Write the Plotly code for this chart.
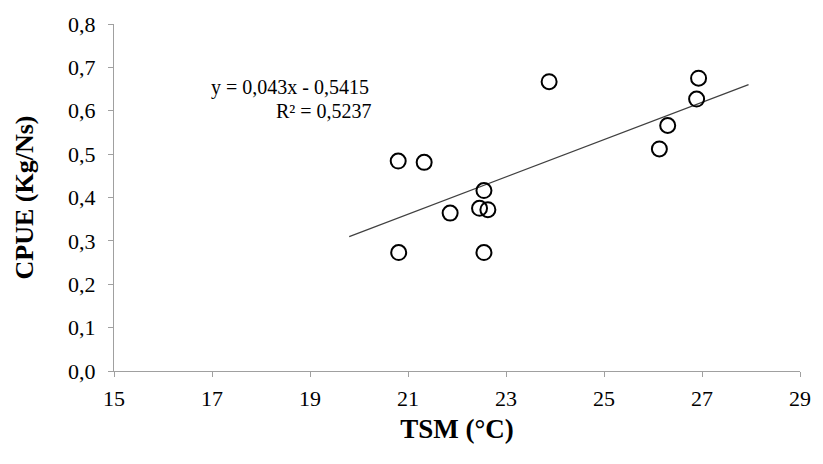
import plotly.graph_objects as go

tsm = [20.80, 21.33, 21.86, 22.55, 22.46, 22.63, 20.81, 22.55, 23.88, 26.13, 26.30, 26.93, 26.89]
cpue = [0.484, 0.481, 0.364, 0.416, 0.375, 0.372, 0.273, 0.273, 0.667, 0.512, 0.566, 0.675, 0.627]
slope = 0.043
intercept = -0.5415
r2 = 0.5237
trend_x = [19.8, 27.95]
trend_y = [slope * x + intercept for x in trend_x]
x_ticks = [15, 17, 19, 21, 23, 25, 27, 29]
y_ticks = [0.0, 0.1, 0.2, 0.3, 0.4, 0.5, 0.6, 0.7, 0.8]
y_labels = [f"{v:.1f}".replace(".", ",") for v in y_ticks]

font = "Times New Roman, Liberation Serif, serif"

fig = go.Figure()
fig.add_trace(go.Scatter(x=trend_x, y=trend_y, mode="lines",
                         line=dict(color="#404040", width=1.2), showlegend=False))
fig.add_trace(go.Scatter(x=tsm, y=cpue, mode="markers",
                         marker=dict(symbol="circle-open", size=15, color="black",
                                     line=dict(width=2, color="black")),
                         showlegend=False))

eq_text = f"y = {str(slope).replace('.', ',')}x - {str(abs(intercept)).replace('.', ',')}"
r2_text = f"R² = {str(r2).replace('.', ',')}"
fig.add_annotation(xref="x", yref="y", x=20.24, y=0.653, showarrow=False, xanchor="right",
                   text=eq_text, font=dict(family=font, size=20, color="black"))
fig.add_annotation(xref="x", yref="y", x=20.30, y=0.599, showarrow=False, xanchor="right",
                   text=r2_text, font=dict(family=font, size=20, color="black"))

fig.update_layout(
    width=823, height=464,
    margin=dict(l=114, r=14, t=18, b=93),
    paper_bgcolor="white", plot_bgcolor="white",
    font=dict(family=font, size=22, color="black"),
    xaxis=dict(range=[15, 29], tickvals=x_ticks, ticktext=[str(v) for v in x_ticks],
               showgrid=False, zeroline=False, showline=True, linecolor="#a0a0a0",
               linewidth=1, ticks="outside", tickcolor="#a0a0a0", ticklen=5,
               ticklabelstandoff=3,
               tickfont=dict(family=font, size=22, color="black"),
               title=dict(text="<b>TSM (°C)</b>", font=dict(family=font, size=27, color="black"), standoff=8)),
    yaxis=dict(range=[0, 0.8], tickvals=y_ticks, ticktext=y_labels,
               showgrid=False, zeroline=False, showline=True, linecolor="#a0a0a0",
               linewidth=1, ticks="outside", tickcolor="#a0a0a0", ticklen=5,
               ticklabelstandoff=8,
               tickfont=dict(family=font, size=22, color="black"),
               title=dict(text="<b>CPUE (Kg/Ns)</b>", font=dict(family=font, size=26, color="black"), standoff=26)),
)

fig.write_html("out.html")
